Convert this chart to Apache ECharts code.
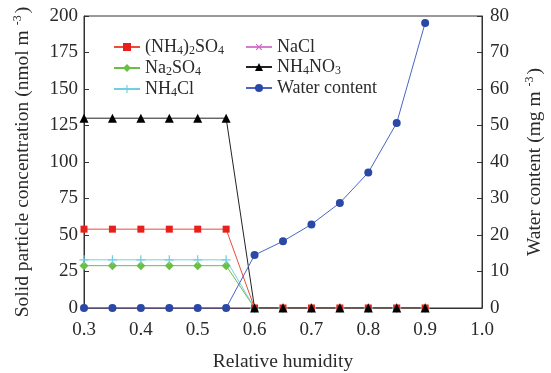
<!DOCTYPE html>
<html><head><meta charset="utf-8">
<script src="https://cdn.jsdelivr.net/npm/echarts@6/dist/echarts.min.js"></script>
<style>html,body{margin:0;padding:0;background:#fff}#c{width:551px;height:373px}</style>
</head><body><div id="c"></div>
<script>
const rh = [0.3,0.35,0.4,0.45,0.5,0.55,0.6,0.65,0.7,0.75,0.8,0.85,0.9];
const ammSulfate = [54,54,54,54,54,54,0,0,0,0,0,0,0];
const sodSulfate = [29,29,29,29,29,29,0,0,0,0,0,0,0];
const ammChloride = [33,33,33,33,33,33,0,0,0,0,0,0,0];
const sodChloride = [0,0,0,0,0,0,0,0,0,0,0,0,0];
const ammNitrate = [130,130,130,130,130,130,0,0,0,0,0,0,0];
const waterContent = [0,0,0,0,0,0,14.5,18.3,22.9,28.8,37.1,50.7,78.1];
const xTicks = {min:0.3, max:1.0, interval:0.1};
const yLeftTicks = {min:0, max:200, interval:25};
const yRightTicks = {min:0, max:80, interval:10};

const pair = arr => arr.map((v,i)=>[rh[i], v]);
const FONT = 'Liberation Serif';
const TXT = '#2a2a2a';
const legendRich = {
  n:{fontFamily:FONT,fontSize:18,color:TXT,lineHeight:20},
  s:{fontFamily:FONT,fontSize:12,color:TXT,lineHeight:20,verticalAlign:'bottom',padding:[7,0,0,0]}
};
const legendLabels = {
  'AS':'{n|(NH}{s|4}{n|)}{s|2}{n|SO}{s|4}',
  'SS':'{n|Na}{s|2}{n|SO}{s|4}',
  'AC':'{n|NH}{s|4}{n|Cl}',
  'SC':'{n|NaCl}',
  'AN':'{n|NH}{s|4}{n|NO}{s|3}',
  'WC':'{n|Water content}'
};
const plusPath = 'path://M0,4.3H10V5.7H0ZM4.3,0H5.7V10H4.3Z';
const nameRich = {n:{fontFamily:FONT,fontSize:19.5,color:TXT},p:{fontFamily:FONT,fontSize:12,color:TXT,verticalAlign:'top',padding:[0,2,10,5]}};

const chart = echarts.init(document.getElementById('c'));
const legendCommon = {
  orient:'vertical', itemWidth:26, itemHeight:10, itemGap:2,
  formatter: n => legendLabels[n],
  textStyle:{rich:legendRich}
};
chart.setOption({
  animation:false,
  grid:{left:84,right:69,top:16,bottom:65,outerBoundsMode:'none',containLabel:false,show:true,borderColor:'#333',borderWidth:1,backgroundColor:'transparent'},
  legend:[
    Object.assign({left:108,top:33,data:['AS','SS','AC']}, legendCommon),
    Object.assign({left:240,top:33,data:['SC','AN','WC']}, legendCommon)
  ],
  xAxis:{type:'value',min:xTicks.min,max:xTicks.max,interval:xTicks.interval,
    name:'Relative humidity',nameLocation:'middle',nameGap:44,
    nameTextStyle:{fontFamily:FONT,fontSize:19.5,color:TXT},
    axisLine:{onZero:false,lineStyle:{color:'#333'}},
    axisTick:{show:false},
    splitLine:{show:false},
    axisLabel:{fontFamily:FONT,fontSize:19,color:TXT,margin:13,formatter:v=>v.toFixed(1)}},
  yAxis:[
    {type:'value',min:yLeftTicks.min,max:yLeftTicks.max,interval:yLeftTicks.interval,position:'left',
     name:'{n|Solid particle concentration (nmol m}{p|-3}{n|)}',nameLocation:'middle',nameGap:50,nameRotate:90,
     nameTextStyle:{rich:nameRich},
     axisLine:{show:true,lineStyle:{color:'#333'}},
     axisTick:{show:true,inside:true,length:5,lineStyle:{color:'#333'}},
     splitLine:{show:false},
     axisLabel:{fontFamily:FONT,fontSize:19,color:TXT,margin:6}},
    {type:'value',min:yRightTicks.min,max:yRightTicks.max,interval:yRightTicks.interval,position:'right',
     name:'{n|Water content (mg m}{p|-3}{n|)}',nameLocation:'middle',nameGap:42,nameRotate:90,
     nameTextStyle:{rich:nameRich},
     axisLine:{show:true,lineStyle:{color:'#333'}},
     axisTick:{show:true,inside:true,length:5,lineStyle:{color:'#333'}},
     splitLine:{show:false},
     axisLabel:{fontFamily:FONT,fontSize:19,color:TXT,margin:8}}
  ],
  series:[
    {name:'SC',type:'line',data:pair(sodChloride),symbol:plusPath,symbolRotate:45,symbolSize:8,
     itemStyle:{color:'#cc66c4'},lineStyle:{width:1,color:'#d67ccc'}},
    {name:'SS',type:'line',data:pair(sodSulfate),symbol:'diamond',symbolSize:9,
     itemStyle:{color:'#6cbf45'},lineStyle:{width:1,color:'#6cbf45'}},
    {name:'AC',type:'line',data:pair(ammChloride),symbol:plusPath,symbolSize:9,
     itemStyle:{color:'#72d0de'},lineStyle:{width:1,color:'#72d0de'}},
    {name:'AS',type:'line',data:pair(ammSulfate),symbol:'rect',symbolSize:7,
     itemStyle:{color:'#e8201c'},lineStyle:{width:1,color:'#ec4a3a'}},
    {name:'AN',type:'line',data:pair(ammNitrate),symbol:'triangle',symbolSize:9,
     itemStyle:{color:'#000'},lineStyle:{width:1,color:'#222'}},
    {name:'WC',type:'line',yAxisIndex:1,data:pair(waterContent),symbol:'circle',symbolSize:8,
     itemStyle:{color:'#2a48a6'},lineStyle:{width:1,color:'#4a64c4'}}
  ]
});
</script></body></html>
